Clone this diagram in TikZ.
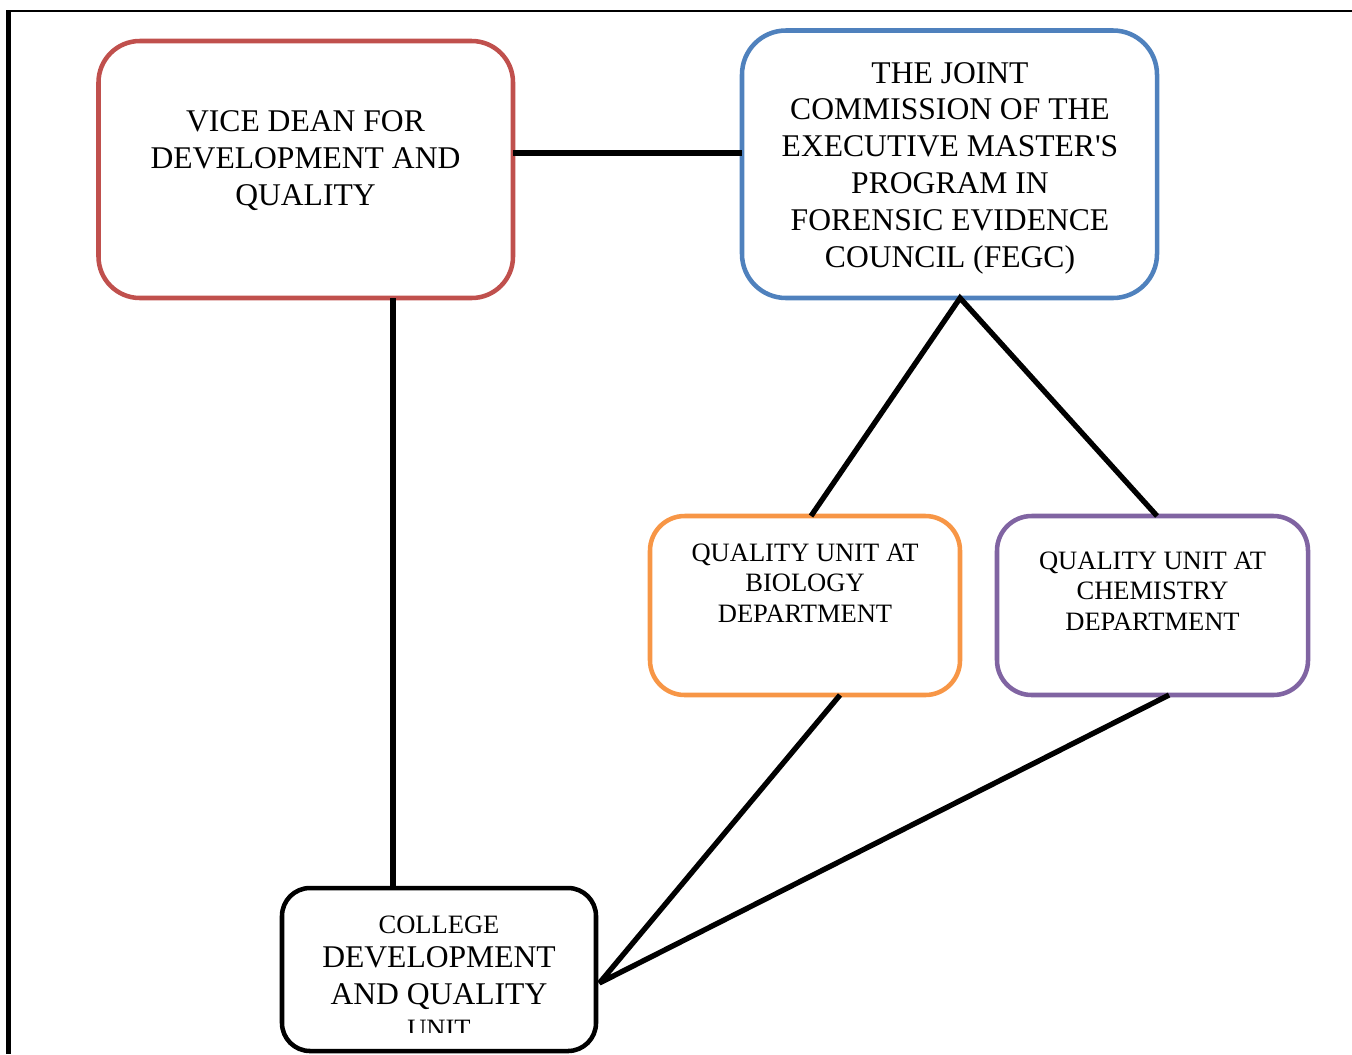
\documentclass[tikz,border=0pt]{standalone}
\usepackage{fontspec}
\setmainfont{Liberation Serif}[Ligatures=TeXOff]
\definecolor{vdred}{HTML}{C0504D}
\definecolor{jcblue}{HTML}{4F81BD}
\definecolor{bioorange}{HTML}{F79646}
\definecolor{chempurple}{HTML}{8064A2}
\begin{document}
\begin{tikzpicture}[x=0.75pt,y=-0.75pt,
  box/.style={draw, rectangle, line width=3.4pt, inner sep=0pt, outer sep=0pt},
  big/.style={font=\fontsize{23.7pt}{27.7pt}\selectfont, align=center, inner sep=0pt},
  small/.style={font=\fontsize{19.9pt}{22.9pt}\selectfont, align=center, inner sep=0pt},
  link/.style={line width=4pt, black, line join=miter}]
\useasboundingbox (0,0) rectangle (1352,1054);
\begin{scope}
\clip (0,0) rectangle (1352,1054);

% page frame
\draw[line width=2pt] (7,11) -- (1352,11);
\draw[line width=3.8pt] (8.5,10) -- (8.5,1054);

% boxes
\node[box, draw=vdred, rounded corners=31pt, minimum width=414.5*0.75pt, minimum height=257*0.75pt] (vd) at (305.75,169.5) {};
\node[box, draw=jcblue, rounded corners=33pt, minimum width=415*0.75pt, minimum height=267.5*0.75pt] (jc) at (949.5,164.25) {};
\node[box, draw=bioorange, rounded corners=26pt, minimum width=310*0.75pt, minimum height=179*0.75pt] (bio) at (805,605.5) {};
\node[box, draw=chempurple, rounded corners=26pt, minimum width=311*0.75pt, minimum height=179*0.75pt] (chem) at (1152.5,605.5) {};
\node[box, draw=black, rounded corners=21pt, minimum width=314*0.75pt, minimum height=163*0.75pt] (cd) at (439,969.5) {};

% texts
\node[big] (vdtext) at (305.5,161) {VICE DEAN FOR\\DEVELOPMENT AND\\QUALITY};
\node[big, font=\fontsize{23.7pt}{27.6pt}\selectfont] (jctext) at (950,168) {THE JOINT\\COMMISSION OF THE\\EXECUTIVE MASTER'S\\PROGRAM IN\\FORENSIC EVIDENCE\\COUNCIL (FEGC)};
\node[small] (biotext) at (805,583) {QUALITY UNIT AT\\BIOLOGY\\DEPARTMENT};
\node[small] (chemtext) at (1152.5,591) {QUALITY UNIT AT\\CHEMISTRY\\DEPARTMENT};
\begin{scope}
\clip (282,890) rectangle (596,1032);
\node[big, font=\fontsize{23.7pt}{27.7pt}\selectfont] (cdtext) at (439,977)
  {{\fontsize{19.9pt}{22.9pt}\selectfont COLLEGE}\\[-2.4pt]DEVELOPMENT\\AND QUALITY\\[-2.4pt]{\fontsize{19.9pt}{22.9pt}\selectfont UNIT}};
\end{scope}

% connectors
\draw[link] ([yshift=12.4pt]vd.east) -- ([yshift=12.4pt]vd.east -| jc.west);
\draw[link] ([xshift=65.4pt]vd.south) -- ([xshift=65.4pt]vd.south |- cd.north);
\draw[link] ([xshift=4.5pt]bio.north) -- ([xshift=7.9pt]jc.south) -- ([xshift=3.4pt]chem.north);
\draw[link, miter limit=2] ([xshift=26.25pt]bio.south) -- ([xshift=2.6pt,yshift=-10.1pt]cd.east) -- ([xshift=12.4pt]chem.south);
\end{scope}
\end{tikzpicture}
\end{document}
